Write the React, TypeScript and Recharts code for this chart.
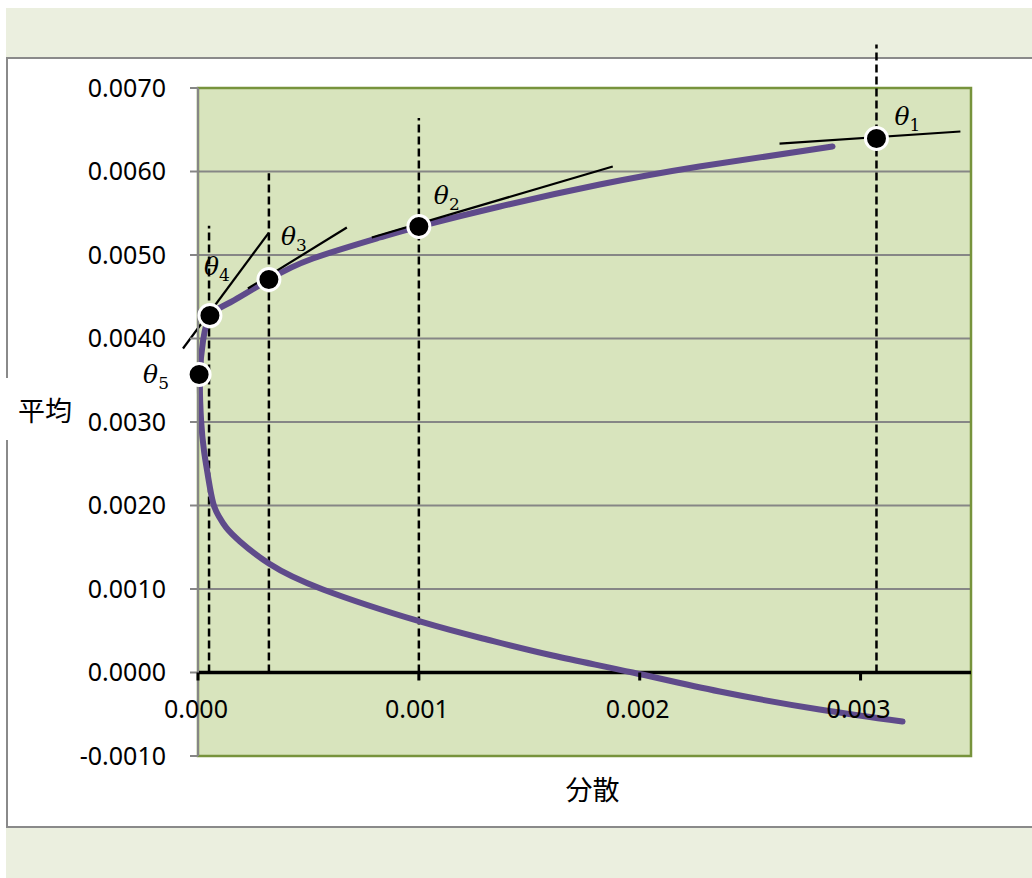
import React from "react";
import {
  ComposedChart,
  Line,
  Scatter,
  XAxis,
  YAxis,
  CartesianGrid,
  ReferenceLine,
  ReferenceArea,
  Label,
} from "recharts";

// 効率的フロンティア (分散 → x, 平均 → y)
const frontierVariance = [
  0.002873, 0.00227, 0.001819, 0.001367, 0.001, 0.000824, 0.00052, 0.000321, 0.000145, 0.000054,
  0.000023, 0.000009, 0.000014, 0.000027, 0.000041, 0.000054, 0.000072, 0.000095, 0.000127,
  0.00019, 0.000321, 0.000566, 0.001005, 0.001308, 0.001606, 0.001968, 0.002362, 0.002814, 0.00319,
];
const frontierMean = [
  0.006299, 0.00606, 0.005844, 0.005581, 0.005341, 0.00521, 0.004958, 0.004707, 0.004431, 0.004275,
  0.003976, 0.003569, 0.003018, 0.002659, 0.002419, 0.002216, 0.002, 0.001868, 0.001737, 0.001569,
  0.001305, 0.000994, 0.000611, 0.000395, 0.000204, 0, -0.000228, -0.000443, -0.000587,
];

// 接点
const pointNames = ["1", "2", "3", "4", "5"];
const pointVariance = [0.003072, 0.001, 0.000321, 0.000054, 0.000005];
const pointMean = [0.006395, 0.005341, 0.004707, 0.004275, 0.003569];

// 接線
const tangentX1 = [0.002633, 0.000787, 0.000226, -0.000068];
const tangentY1 = [0.006335, 0.00521, 0.004599, 0.00388];
const tangentX2 = [0.003452, 0.001878, 0.000674, 0.000321];
const tangentY2 = [0.006479, 0.00606, 0.005329, 0.005269];

// 破線
const guideX = [0.003072, 0.001, 0.000321, 0.00005];
const guideTop = [0.00752, 0.00664, 0.00598, 0.00535];

const xTicks = [0, 0.001, 0.002, 0.003];
const yTicks = [-0.001, 0, 0.001, 0.002, 0.003, 0.004, 0.005, 0.006, 0.007];

const X_MAX = 0.0035;
const Y_MIN = -0.001;
const Y_MAX = 0.007;

const CHART_W = 1032;
const CHART_H = 878;
const MARGIN = { top: 88, right: 61, bottom: 62, left: 0 };
const Y_AXIS_W = 198;
const X_AXIS_H = 60;
const PLOT_H = CHART_H - MARGIN.top - MARGIN.bottom - X_AXIS_H;
const ZERO_SHIFT = (PLOT_H * (0 - Y_MIN)) / (Y_MAX - Y_MIN);

const NUM_FONT = "'Noto Sans', 'Open Sans', sans-serif";
const CJK_FONT = "'Noto Sans CJK JP', sans-serif";

// label offset from each dot (left, baseline)
const labelOffsets = [
  [18, -14],
  [15, -23],
  [12, -34],
  [-6, -41],
  [-56, 9],
];

const frontier = frontierVariance.map((x, i) => ({ x, y: frontierMean[i] }));
const points = pointNames.map((name, i) => ({ name, x: pointVariance[i], y: pointMean[i], idx: i }));

function XTick(props: any) {
  const { x, y, payload } = props;
  const zeroY = y - ZERO_SHIFT;
  return (
    <g>
      <line x1={x} x2={x} y1={zeroY} y2={zeroY + 8} stroke="#000" strokeWidth={3} />
      <text x={x - 2} y={zeroY + 45} textAnchor="middle" fontFamily={NUM_FONT} fontSize={25} fill="#000">
        {Number(payload.value).toFixed(3)}
      </text>
    </g>
  );
}

function YLabel(props: any) {
  const { viewBox } = props;
  const cx = viewBox.x + 45;
  const cy = viewBox.y + viewBox.height / 2 - 13;
  return (
    <g>
      <rect x={cx - 41} y={cy - 31} width={80} height={62} fill="#fff" />
      <text x={cx} y={cy} textAnchor="middle" dominantBaseline="central" fontFamily={CJK_FONT} fontSize={27} fill="#000">
        平均
      </text>
    </g>
  );
}

function XLabel(props: any) {
  const { viewBox } = props;
  return (
    <text
      x={viewBox.x + viewBox.width / 2 + 8}
      y={viewBox.y + 32}
      textAnchor="middle"
      dominantBaseline="central"
      fontFamily={CJK_FONT}
      fontSize={27}
      fill="#000"
    >
      分散
    </text>
  );
}

function PointShape(props: any) {
  const { cx, cy, payload } = props;
  const [dx, dy] = labelOffsets[payload.idx];
  return (
    <g>
      <circle cx={cx} cy={cy} r={11} fill="#000" stroke="#fff" strokeWidth={3} />
      <text x={cx + dx} y={cy + dy} fontFamily="'DejaVu Serif', serif" fontStyle="italic" fontSize={25} fill="#000">
        θ
        <tspan dy={6} fontSize={17} fontStyle="normal">
          {payload.name}
        </tspan>
      </text>
    </g>
  );
}

export default function App() {
  return (
    <div>
      <div style={{ position: "absolute", left: 6, top: 8, width: 1026, height: 870, background: "#ebefdf" }} />
      <div
        style={{
          position: "absolute",
          left: 6,
          top: 57,
          width: 1030,
          height: 771,
          background: "#fff",
          border: "2px solid #8a8a8a",
          boxSizing: "border-box",
        }}
      />
      <div style={{ position: "absolute", left: 0, top: 0 }}>
        <ComposedChart width={CHART_W} height={CHART_H} margin={MARGIN}>
          <CartesianGrid vertical={false} fill="#d8e4bd" stroke="#868686" strokeWidth={2} />
          <ReferenceArea
            x1={0}
            x2={X_MAX}
            y1={Y_MIN}
            y2={Y_MAX}
            fill="none"
            fillOpacity={0}
            stroke="#77933c"
            strokeWidth={2.5}
            strokeOpacity={1}
          />
          <XAxis
            dataKey="x"
            type="number"
            domain={[0, X_MAX]}
            ticks={xTicks}
            height={X_AXIS_H}
            axisLine={false}
            tickLine={false}
            tickSize={0}
            tickMargin={0}
            tick={<XTick />}
            interval={0}
          >
            <Label content={<XLabel />} />
          </XAxis>
          <YAxis
            type="number"
            domain={[Y_MIN, Y_MAX]}
            ticks={yTicks}
            width={Y_AXIS_W}
            axisLine={{ stroke: "#868686", strokeWidth: 2 }}
            tickLine={{ stroke: "#868686", strokeWidth: 2 }}
            tickSize={8}
            tickMargin={24}
            tick={{ fontFamily: NUM_FONT, fontSize: 25, fill: "#000" }}
            tickFormatter={(v: number) => v.toFixed(4)}
            interval={0}
          >
            <Label content={<YLabel />} />
          </YAxis>
          <ReferenceLine y={0} stroke="#000" strokeWidth={3.5} />
          {guideX.map((gx, i) => (
            <ReferenceLine
              key={`g${i}`}
              segment={[
                { x: gx, y: 0 },
                { x: gx, y: guideTop[i] },
              ]}
              ifOverflow="visible"
              stroke="#000"
              strokeWidth={2.5}
              strokeDasharray="8 4"
            />
          ))}
          <Line
            data={frontier}
            dataKey="y"
            type="natural"
            stroke="#5f4b8b"
            strokeWidth={6}
            strokeLinecap="round"
            dot={false}
            activeDot={false}
            isAnimationActive={false}
          />
          {tangentX1.map((tx, i) => (
            <ReferenceLine
              key={`t${i}`}
              segment={[
                { x: tx, y: tangentY1[i] },
                { x: tangentX2[i], y: tangentY2[i] },
              ]}
              ifOverflow="visible"
              stroke="#000"
              strokeWidth={2.2}
            />
          ))}
          <Scatter data={points} dataKey="y" shape={<PointShape />} isAnimationActive={false} />
        </ComposedChart>
      </div>
    </div>
  );
}
